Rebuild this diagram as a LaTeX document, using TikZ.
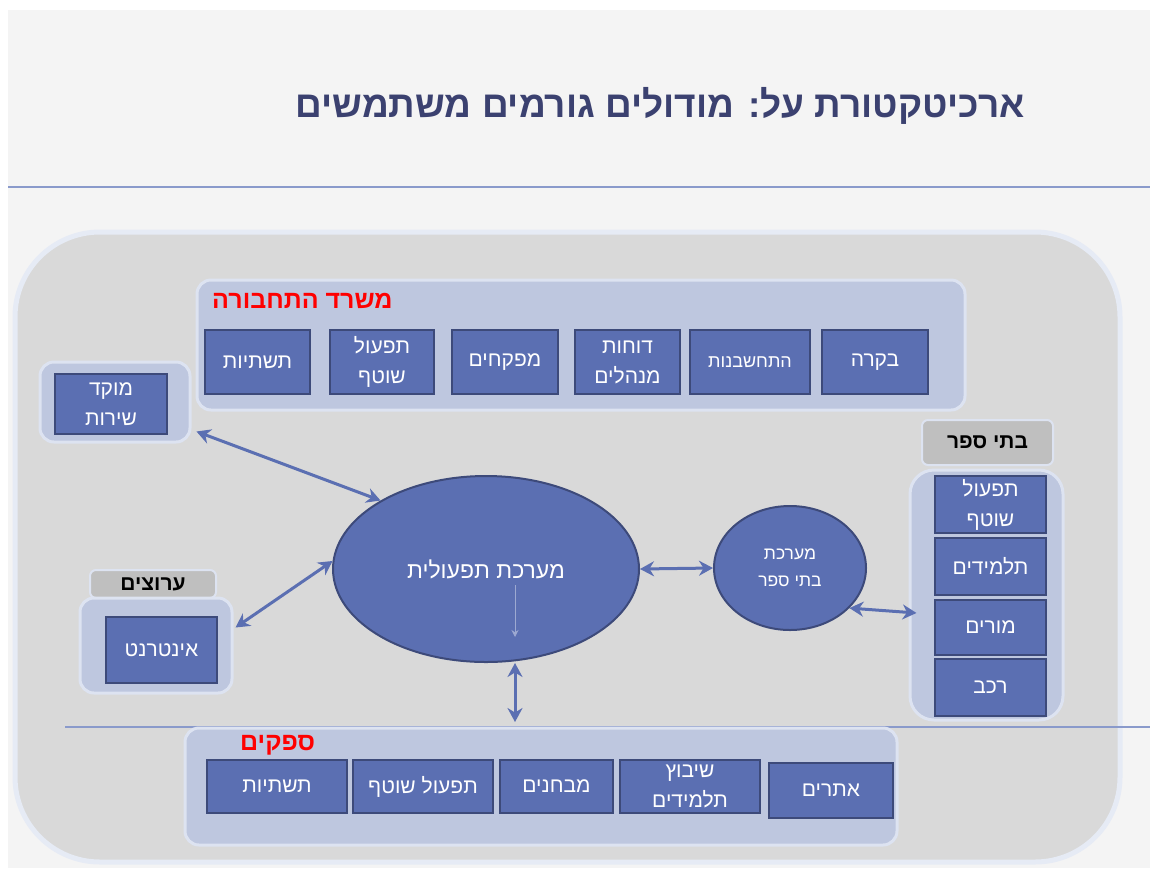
\documentclass[tikz,border=0pt]{standalone}
\usepackage{fontspec}
\usetikzlibrary{arrows.meta,shapes.geometric,calc}
\TeXXeTstate=1
\newfontfamily\heb[Script=Hebrew]{Liberation Sans}
\newcommand{\hb}[1]{\beginR #1\endR}
\definecolor{boxfill}{HTML}{5B6FB2}
\definecolor{boxdraw}{HTML}{3D4A7A}
\definecolor{grpfill}{HTML}{BEC7DF}
\definecolor{grpdraw}{HTML}{DDE3F1}
\definecolor{bigfill}{HTML}{D9D9D9}
\definecolor{bigdraw}{HTML}{E6EBF5}
\definecolor{lblgray}{HTML}{BFBFBF}
\definecolor{rule}{HTML}{8A9ACB}
\definecolor{titlecol}{HTML}{3B4170}
\definecolor{bgcol}{HTML}{F4F4F4}
\definecolor{redlbl}{HTML}{FF0000}
\tikzset{
  box/.style={rectangle, fill=boxfill, draw=boxdraw, line width=2.5pt, text=white, align=center, inner sep=0pt,
    font=\heb\fontsize{21}{30}\selectfont},
  grp/.style={rectangle, rounded corners=14pt, fill=grpfill, draw=grpdraw, line width=3pt, inner sep=0pt},
  glabel/.style={rectangle, rounded corners=6pt, fill=lblgray, draw=grpdraw, line width=2pt, inner sep=0pt,
    font=\heb\bfseries\fontsize{21}{24}\selectfont, text=black},
  redlabel/.style={font=\heb\bfseries\fontsize{25}{28}\selectfont, text=redlbl, inner sep=0pt},
  ell/.style={ellipse, fill=boxfill, draw=boxdraw, line width=2pt, text=white, align=center, inner sep=0pt,
    font=\heb\fontsize{23}{28}\selectfont},
  link/.style={draw=boxfill, line width=3pt, {Stealth[length=14pt,width=15pt]}-{Stealth[length=14pt,width=15pt]}},
}
\begin{document}
\begin{tikzpicture}[x=1pt,y=-1pt]
\useasboundingbox (0,0) rectangle (1150,868);
\fill[white] (0,0) rectangle (1150,868);
\fill[bgcol] (8,10) rectangle (1150,868);
% title
\node[anchor=east, inner sep=0pt, text=titlecol, font=\heb\bfseries\fontsize{37}{44}\selectfont] (title) at (1025,106) {\hb{ארכיטקטורת על: מודולים גורמים משתמשים}};
\draw[rule, line width=2.5pt] (8,187) -- (1150,187);
% big area
\filldraw[fill=bigfill, draw=bigdraw, line width=5pt, rounded corners=85pt] (15,232) rectangle (1120,862);
% top group
\node[grp, minimum width=768pt, minimum height=130pt] (topg) at (581,345) {};
\node[redlabel, anchor=west] (toplbl) at (212,301) {\hb{משרד התחבורה}};
\node[box, minimum width=105pt, minimum height=64pt] (t1) at (257.5,362) {\hb{תשתיות}};
\node[box, minimum width=104pt, minimum height=64pt] (t2) at (382,362) {\hb{תפעול}\\\hb{שוטף}};
\node[box, minimum width=106pt, minimum height=64pt] (t3) at (505,362) {\hb{מפקחים}};
\node[box, minimum width=105pt, minimum height=64pt] (t4) at (627.5,362) {\hb{דוחות}\\\hb{מנהלים}};
\node[box, minimum width=120pt, minimum height=64pt, font=\heb\fontsize{18}{22}\selectfont] (t5) at (750,362) {\hb{התחשבנות}};
\node[box, minimum width=106pt, minimum height=64pt] (t6) at (875,362) {\hb{בקרה}};
% moked
\node[grp, minimum width=150pt, minimum height=80pt] (mokedg) at (115,402) {};
\node[box, minimum width=112pt, minimum height=60pt] (moked) at (111,404) {\hb{מוקד}\\\hb{שירות}};
% channels
\node[glabel, minimum width=126pt, minimum height=28pt] (chlbl) at (153,584) {\hb{ערוצים}};
\node[grp, minimum width=152pt, minimum height=95pt] (chg) at (156,645.5) {};
\node[box, minimum width=111pt, minimum height=66pt] (inet) at (161.5,650) {\hb{אינטרנט}};
% schools
\node[glabel, minimum width=131pt, minimum height=45pt] (schlbl) at (987.5,442.5) {\hb{בתי ספר}};
\node[grp, rounded corners=24pt, minimum width=153pt, minimum height=250pt] (schg) at (986.5,595) {};
\node[box, minimum width=111pt, minimum height=57pt] (s1) at (990.5,504.5) {\hb{תפעול}\\\hb{שוטף}};
\node[box, minimum width=111pt, minimum height=57pt] (s2) at (990.5,566.5) {\hb{תלמידים}};
\node[box, minimum width=111pt, minimum height=55pt] (s3) at (990.5,627.5) {\hb{מורים}};
\node[box, minimum width=111pt, minimum height=57pt] (s4) at (990.5,687.5) {\hb{רכב}};
% ellipses
\node[ell, minimum width=306pt, minimum height=186pt] (main) at (486,569) {\hb{מערכת תפעולית}};
\node[ell, minimum width=152pt, minimum height=124pt, font=\heb\fontsize{17.5}{27}\selectfont] (small) at (790,568) {\hb{מערכת}\\\hb{בתי ספר}};
\draw[draw=boxfill!60!white, line width=1pt, -{Stealth[length=7pt,width=7pt]}] (515,585) -- (515,637);
% suppliers
\draw[rule, line width=2pt] (65,727) -- (1150,727);
\node[grp, minimum width=712pt, minimum height=117pt] (supg) at (541,786.5) {};
\node[redlabel, anchor=west] (suplbl) at (240,745) {\hb{ספקים}};
\node[box, minimum width=140pt, minimum height=53pt] (p1) at (277,786.5) {\hb{תשתיות}};
\node[box, minimum width=140pt, minimum height=53pt] (p2) at (423,786.5) {\hb{תפעול שוטף}};
\node[box, minimum width=113pt, minimum height=53pt] (p3) at (556.5,786.5) {\hb{מבחנים}};
\node[box, minimum width=140pt, minimum height=53pt] (p4) at (690,786.5) {\hb{שיבוץ}\\\hb{תלמידים}};
\node[box, minimum width=124pt, minimum height=55pt] (p5) at (831,790.5) {\hb{אתרים}};
% connectors
\coordinate (vb) at (515,722);
\draw[link] ($(mokedg.south east)+(5,-12)$) -- (main.147);
\draw[link] ($(chg.east)+(2,-18)$) -- (main.177);
\draw[link] (main.east) -- (small.west);
\draw[link] (small.-34) -- ($(schg.west)+(8,18)$);
\draw[link] (main.south -| vb) -- (vb);
\end{tikzpicture}
\end{document}
